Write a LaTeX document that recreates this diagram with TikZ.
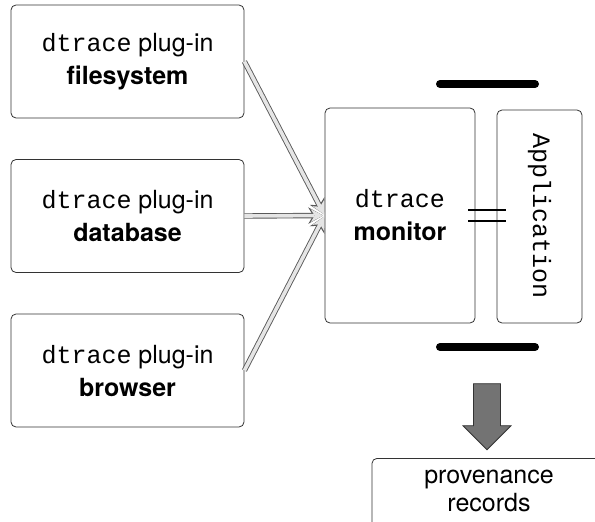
\documentclass[tikz,border=0pt]{standalone}
\usepackage{fontspec}
\setsansfont{TeX Gyre Heros}
\setmonofont{Liberation Mono}
\usetikzlibrary{arrows.meta,shapes.arrows,positioning}
\tikzstyle{box}    =[draw=black!80, rounded corners=5pt, line width=0.8pt,
                     align=center, inner sep=0pt,
                     font=\sffamily\fontsize{25}{33}\selectfont]
\tikzstyle{plugin} =[box, minimum width=233pt, minimum height=113pt]
\tikzstyle{feed}   =[draw=black!10, line width=3.6pt, shorten >=1.4pt,
                     -{Stealth[length=12.5pt, width=13pt, inset=4pt, line width=0pt]},
                     preaction={draw=black!65, line width=5.4pt,
                     -{Stealth[length=15pt, width=16.5pt, inset=5pt, line width=0pt]}}]
\tikzstyle{bar}    =[line width=8pt, line cap=round]
\tikzstyle{wire}   =[line width=2.8pt]
\tikzstyle{bigarrow}=[single arrow, rotate=-90, draw=black!80, fill=black!55,
                     line width=0.8pt, inner xsep=0pt, inner ysep=13pt,
                     minimum height=66pt, minimum width=48pt,
                     single arrow head extend=10.5pt]

\begin{document}
\begin{tikzpicture}[x=1pt, y=1pt, node distance=154.5pt, on grid]
    \useasboundingbox (0,0) rectangle (595,-522);

    \node (fs) [plugin] at (127.5,-61.5) {\texttt{dtrace} plug-in\\\textbf{filesystem}};
    \node (db) [plugin, below=of fs] {\texttt{dtrace} plug-in\\\textbf{database}};
    \node (br) [plugin, below=of db] {\texttt{dtrace} plug-in\\\textbf{browser}};

    \node (mon) [box, minimum width=150pt, minimum height=215pt] at (400,-215.5)
        {\texttt{dtrace}\\\textbf{monitor}};
    \node (app) [box, rotate=-90, minimum width=213pt, minimum height=85pt,
        font=\ttfamily\fontsize{25}{33}\selectfont] at (539.5,-216.5) {Application};

    \draw[feed] (fs.east) -- (mon.west);
    \draw[feed] (db.east) -- (mon.west);
    \draw[feed] (br.east) -- (mon.west);

    % shielding bars and the link
    \draw[bar] (440,-84) -- (535,-84);
    \draw[bar] (440,-347) -- (535,-347);
    \draw[wire] ([shift={(-7pt,5.5pt)}]mon.east) -- +(38pt,0);
    \draw[wire] ([shift={(-7pt,-5.5pt)}]mon.east) -- +(38pt,0);

    \node (dn) [bigarrow] at (487,-410) {};
    \node (prov) [box, anchor=north, minimum width=234pt, inner ysep=12pt,
        font=\sffamily\fontsize{25}{28}\selectfont, text depth=20pt]
        at (489,-458) {provenance\\records};
\end{tikzpicture}
\end{document}
